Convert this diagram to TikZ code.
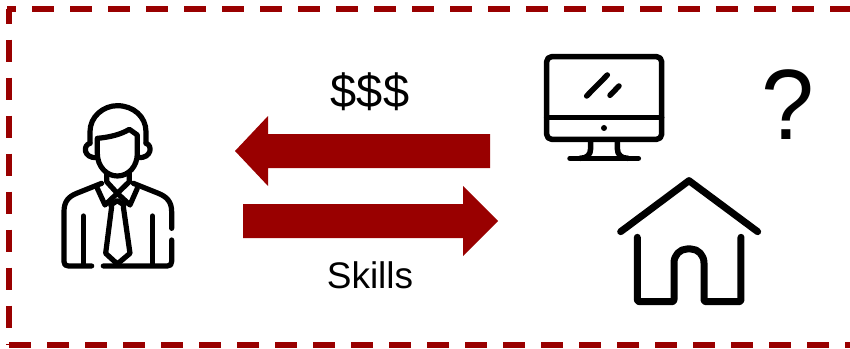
\documentclass[tikz,border=0pt]{standalone}
\usepackage{fontspec}
\setmainfont{Liberation Sans}
\definecolor{darkred}{HTML}{990000}
\tikzset{
  px/.style={x=1pt,y=-1pt},
  frameline/.style={draw=darkred,line width=5.5pt,dash pattern=on 22pt off 16pt},
  bigarrow/.style={fill=darkred,draw=none},
  icon/.style={draw=black,line cap=round,line join=round},
  zoomed/.style={x=0.3333pt,y=-0.3333pt},
  lab/.style={inner sep=0pt,text=black}
}
\begin{document}
\begin{tikzpicture}[px]
\useasboundingbox (0,0) rectangle (850,348);
% frame
\draw[frameline,dash phase=13pt] (7,9) -- (850,9);
\draw[frameline,dash phase=7pt] (9,8.5) -- (9,345);
\draw[frameline] (9,345) -- (850,345);
% arrows
\fill[bigarrow] (235,151) -- (268,116) -- (268,134) -- (490,134) -- (490,168) -- (268,168) -- (268,186) -- cycle;
\fill[bigarrow] (498,221) -- (463,186) -- (463,204) -- (243,204) -- (243,238) -- (463,238) -- (463,256) -- cycle;
% labels
\node[lab,font=\fontsize{47}{47}\selectfont] (money) at (370,92) {\$\$\$};
\node[lab,font=\fontsize{37}{37}\selectfont] (skills) at (370,275) {Skills};
\node[lab,font=\fontsize{100}{100}\selectfont,xscale=0.95] (question) at (787.5,105) {?};
% person
\begin{scope}[shift={(40,90)},zoomed,icon,line width=5.2pt]
\draw (150,160) -- (150,125) .. controls (150,80) and (190,47) .. (232,47) .. controls (280,47) and (318,80) .. (318,125) -- (318,160);
\draw (172,145) -- (172,190) .. controls (172,230) and (200,258) .. (232,258) .. controls (265,258) and (292,230) .. (292,190) -- (292,135) -- (268,118) .. controls (240,135) and (205,142) .. (172,145);
\draw (150,160) .. controls (128,165) and (130,205) .. (170,203);
\draw (318,160) .. controls (338,165) and (336,205) .. (295,203);
\draw (200,250) -- (200,275) -- (232,310) -- (268,275) -- (268,250);
\draw (172,295) -- (195,345) -- (232,310) -- (270,345) -- (292,295);
\draw (212,345) -- (232,332) -- (252,345);
\draw (215,350) -- (197,490) -- (232,522) -- (270,490) -- (250,350);
\draw (185,280) -- (110,310) .. controls (85,320) and (72,335) .. (72,365) -- (72,515) .. controls (72,524) and (76,528) .. (85,528) -- (155,528);
\draw (190,528) -- (382,528) .. controls (391,528) and (395,524) .. (395,515) -- (395,450);
\draw (395,415) -- (395,365) .. controls (395,335) and (380,320) .. (355,310) -- (280,280);
\draw (130,378) -- (130,525);
\draw (337,378) -- (337,525);
\end{scope}
% monitor
\begin{scope}[shift={(530,40)},zoomed,icon,line width=5.5pt]
\draw[rounded corners=5pt] (50,50) rectangle (395,298);
\draw (50,232) -- (395,232);
\fill (222,264) circle (9);
\draw (170,168) -- (232,105);
\draw (240,166) -- (267,138);
\draw (182,300) -- (182,325) .. controls (182,345) and (170,355) .. (150,355);
\draw (262,300) -- (262,325) .. controls (262,345) and (274,355) .. (294,355);
\draw (120,355) -- (325,355);
\end{scope}
% house
\begin{scope}[shift={(600,165)},zoomed,icon,line width=7pt]
\draw (62,200) -- (267,47) -- (473,200);
\draw[rounded corners=2pt] (112,217) -- (112,410) -- (222,410) -- (222,300) .. controls (222,270) and (240,252) .. (267,252) .. controls (294,252) and (312,270) .. (312,300) -- (312,410) -- (423,410) -- (423,217);
\end{scope}
\end{tikzpicture}
\end{document}
